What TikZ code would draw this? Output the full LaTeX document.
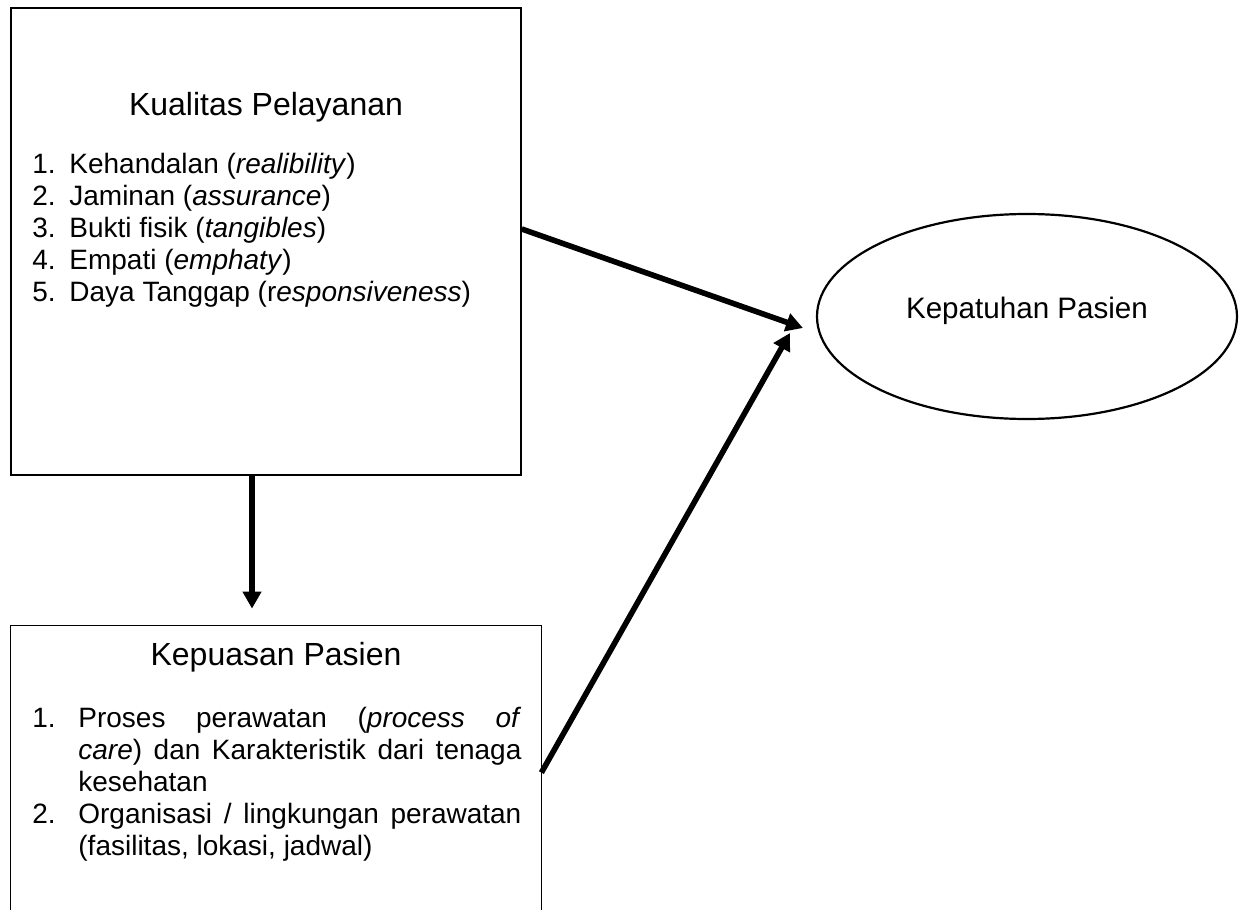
\documentclass[tikz,border=0pt]{standalone}
\usepackage{fontspec}
\setmainfont{Liberation Sans}
\usepackage{tikz}
\usetikzlibrary{arrows.meta,shapes,positioning,calc}

\newcommand{\butir}[3]{\hangindent=#1\hangafter=1\noindent\makebox[#1][l]{#2}#3\par}

\begin{document}
\begin{tikzpicture}[x=0.5pt,y=-0.5pt,
  kotak/.style={draw, line width=0.75pt, inner sep=0pt},
  judul/.style={font=\fontsize{16}{18}\selectfont, inner sep=0pt},
  daftar/.style={font=\fontsize{14}{16}\selectfont, align=justify, inner sep=0pt, anchor=north west},
  panah/.style={-{Triangle[length=8.5pt,width=9pt]}, line width=2.8pt}]

  \useasboundingbox (0,0) rectangle (1248,910);

  % Nodes
  \node[kotak, minimum width=255pt, minimum height=233.5pt] (kualitas) at (266,241.5) {};
  \node[judul] (jkualitas) at (266,107) {Kualitas Pelayanan};
  \node[daftar, text width=240pt] (dkualitas) at (32,153) {%
    \butir{18.5pt}{1.}{Kehandalan (\textit{realibility})}%
    \butir{18.5pt}{2.}{Jaminan (\textit{assurance})}%
    \butir{18.5pt}{3.}{Bukti fisik (\textit{tangibles})}%
    \butir{18.5pt}{4.}{Empati (\textit{emphaty})}%
    \butir{18.5pt}{5.}{Daya Tanggap (r\textit{esponsiveness})}};

  \node[inner sep=0pt, minimum width=265pt, minimum height=142pt] (kepuasan) at (276,768) {};
  \draw[line width=0.75pt] (kepuasan.south west) -- (kepuasan.north west) -- (kepuasan.north east) -- (kepuasan.south east);
  \node[judul] (jkepuasan) at (276,657) {Kepuasan Pasien};
  \node[daftar, text width=244.5pt] (dkepuasan) at (32,707) {%
    \butir{23pt}{1.}{Proses perawatan (\textit{process of}\linebreak \textit{care}) dan Karakteristik dari tenaga\linebreak kesehatan}%
    \butir{23pt}{2.}{Organisasi / lingkungan perawatan\linebreak (fasilitas, lokasi, jadwal)}};

  \node[draw, ellipse, line width=1.1pt, minimum width=210pt, minimum height=102.5pt, inner sep=0pt,
    text depth=9pt, font=\fontsize{14.8}{17}\selectfont] (kepatuhan) at (1027,316.5) {Kepatuhan Pasien};

  \coordinate (ujung1) at (803,328);
  \coordinate (ujung2) at (790,333);

  % Arrows
  \draw[panah] ([yshift=6.25pt]kualitas.east) -- (ujung1);
  \draw[panah] ([yshift=-73.5pt]kepuasan.north east) -- (ujung2);
  \draw[panah, shorten >=8.5pt] ([xshift=-7pt]kualitas.south) -- ([xshift=-7pt]kualitas.south |- kepuasan.north);

\end{tikzpicture}
\end{document}
